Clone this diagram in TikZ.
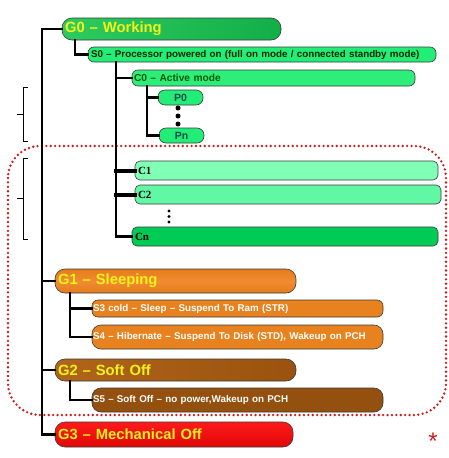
\documentclass[tikz,border=0pt]{standalone}
\usepackage{fontspec}
\setmainfont{Liberation Sans}
\newfontfamily\serifbold{Liberation Serif}
\definecolor{gzero}{HTML}{12AE48}
\definecolor{gzerol}{HTML}{2ECB5E}
\definecolor{szero}{HTML}{22EE77}
\definecolor{czero}{HTML}{2DEE7B}
\definecolor{cone}{HTML}{80FFB6}
\definecolor{ctwo}{HTML}{60F8A4}
\definecolor{cn}{HTML}{00CC55}
\definecolor{gone}{HTML}{E47C1C}
\definecolor{gonel}{HTML}{F08C30}
\definecolor{sorange}{HTML}{E8821F}
\definecolor{gtwo}{HTML}{9A520E}
\definecolor{gtwol}{HTML}{B0651A}
\definecolor{sfive}{HTML}{93500F}
\definecolor{gthree}{HTML}{FF1A1A}
\definecolor{gthreed}{HTML}{E00808}
\definecolor{gtext}{HTML}{F2F21C}
\definecolor{bordr}{HTML}{3A3A3A}
\definecolor{dotred}{HTML}{D01818}
\tikzset{
  bar/.style={draw=bordr, line width=0.6pt, rounded corners=6pt, anchor=west,
    inner xsep=3pt, inner ysep=0pt, outer sep=0pt, align=left, font=\bfseries\fontsize{9.8}{11}\selectfont},
  gbar/.style={bar, rounded corners=10pt, text=gtext, font=\bfseries\fontsize{14.8}{16}\selectfont},
  pbar/.style={draw=bordr, line width=0.6pt, rounded corners=7pt, anchor=west, inner sep=0pt,
    outer sep=0pt, fill=szero, text=teal!60!black, font=\bfseries\fontsize{10.5}{11}\selectfont},
  cbar/.style={bar, rounded corners=5pt, font=\serifbold\bfseries\fontsize{11}{12}\selectfont},
  conn/.style={line width=2.8pt, black, line cap=rect},
  bracket/.style={line width=0.6pt, black},
  dotdot/.style={fill=black, draw=none}
}
\begin{document}
\begin{tikzpicture}[x=1pt,y=-1pt]
\useasboundingbox (0,0) rectangle (448,458);
% dotted frame
\draw[dotred, line width=2.6pt, dash pattern=on 0pt off 4.4pt, line cap=round, rounded corners=32pt]
  (8,146) rectangle (446,415);
% brackets
\draw[bracket] (28,87) -- (23,87) -- (23,141) -- (28,141);
\draw[bracket] (23,114) -- (17,114);
\draw[bracket] (28,158) -- (23,158) -- (23,239) -- (28,239);
\draw[bracket] (23,198) -- (17,198);
% nodes
\node[gbar, left color=gzerol, right color=gzero, text width=213pt, minimum height=22pt] (G0) at (62,29) {G0 -- Working};
\node[bar, fill=szero, text=black!85!green, text width=342pt, minimum height=15pt] (S0) at (88,54.5) {S0 -- Processor powered on (full on mode / connected standby mode)};
\node[bar, fill=czero, text=green!35!black, text width=279pt, minimum height=16pt, inner xsep=2pt, font=\bfseries\fontsize{10.2}{11}\selectfont] (C0) at (132,78) {C0 -- Active mode};
\node[pbar, minimum width=45pt, minimum height=15pt] (P0) at (158,97.5) {P0};
\node[pbar, minimum width=45pt, minimum height=15pt] (Pn) at (159,135.5) {Pn};
\node[cbar, fill=cone, text=black, text width=297pt, minimum height=19pt] (C1) at (135,170.5) {C1};
\node[cbar, fill=ctwo, text=black, text width=300pt, minimum height=19pt] (C2) at (135,194.5) {C2};
\node[cbar, fill=cn, text=black, text width=300pt, minimum height=19pt] (Cn) at (132,236.5) {Cn};
\node[gbar, top color=gone, bottom color=gone, middle color=gonel, text width=235pt, minimum height=24pt] (G1) at (55,281) {G1 -- Sleeping};
\node[bar, fill=sorange, text=white, text width=289pt, minimum height=17pt, inner xsep=1pt] (S3) at (92,308.5) {S3 cold -- Sleep -- Suspend To Ram (STR)};
\node[bar, rounded corners=9pt, fill=sorange, text=white, text width=289pt, minimum height=24pt, inner xsep=1pt] (S4) at (92,337) {S4 -- Hibernate -- Suspend To Disk (STD), Wakeup on PCH};
\node[gbar, left color=gtwol, right color=gtwo, text width=235pt, minimum height=22pt] (G2) at (55,370) {G2 -- Soft Off};
\node[bar, rounded corners=9pt, fill=sfive, text=white, text width=289pt, minimum height=24pt, inner xsep=1pt] (S5) at (92,400) {S5 -- Soft Off -- no power,Wakeup on PCH};
\node[gbar, top color=gthree, bottom color=gthreed, text width=232pt, minimum height=25pt] (G3) at (55,434.5) {G3 -- Mechanical Off};
\node[text=dotred, font=\fontsize{24}{24}\selectfont, inner sep=0pt] (star) at (433,441) {*};
% connector columns
\coordinate (gx) at (42,0);
\coordinate (sx) at (75,0);
\coordinate (cx) at (116,0);
\coordinate (px) at (147,0);
\coordinate (hx) at (70,0);
% connectors
\draw[conn] (G0.west) -| (gx |- G3.west) -- (G3.west);
\draw[conn] (gx |- G1.west) -- (G1.west);
\draw[conn] (gx |- G2.west) -- (G2.west);
\draw[conn] (sx |- G0.south) |- (S0.west);
\draw[conn] (cx |- S0.south) |- (Cn.west);
\draw[conn] (cx |- C0.west) -- (C0.west);
\draw[conn, line width=4pt] (cx |- C1.west) -- (C1.west);
\draw[conn, line width=4pt] (cx |- C2.west) -- (C2.west);
\draw[conn] (px |- C0.south) |- (Pn.west);
\draw[conn] (px |- P0.west) -- (P0.west);
\draw[conn] (hx |- G1.south) |- (S4.west);
\draw[conn] (hx |- S3.west) -- (S3.west);
\draw[conn] (hx |- G2.south) |- (S5.west);
% ellipsis dots
\foreach \yy in {108,116,124} \fill[dotdot] (178,\yy) circle (2.5pt);
\foreach \yy in {211,216.5,222} \fill[dotdot] (169,\yy) circle (1.6pt);
\end{tikzpicture}
\end{document}
